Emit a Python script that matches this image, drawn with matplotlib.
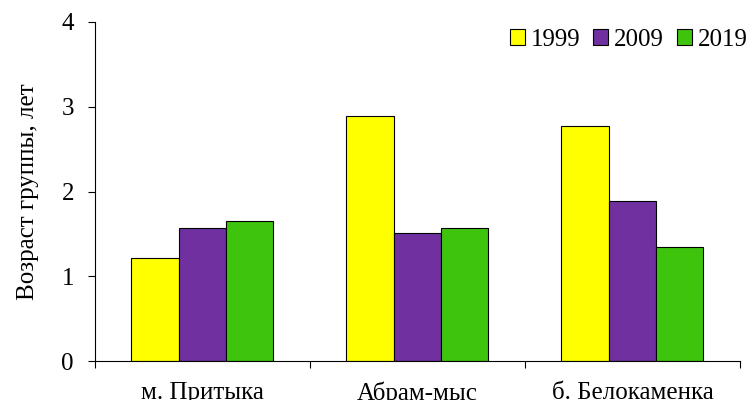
import numpy as np
import matplotlib.pyplot as plt
from matplotlib.ticker import FixedLocator

plt.rcParams['font.family'] = ['Liberation Serif', 'DejaVu Serif']

sites = ['м. Притыка', 'Абрам-мыс', 'б. Белокаменка']
years = ['1999', '2009', '2019']
age_1999 = [1.21, 2.89, 2.77]
age_2009 = [1.57, 1.51, 1.89]
age_2019 = [1.65, 1.57, 1.34]
colors = ['#FFFF00', '#7030A0', '#3FC40E']

fs = 18

fig = plt.figure(figsize=(7.52, 4.0), dpi=100)
ax = fig.add_axes([0.126, 0.0975, 0.858, 0.8475])

index = np.arange(len(sites))
bar_width = 0.22
for i, (vals, yr) in enumerate(zip([age_1999, age_2009, age_2019], years)):
    ax.bar(index + (i - 1) * bar_width, vals, bar_width, color=colors[i],
           edgecolor='black', linewidth=0.8, label=yr)

ax.set_xlim(-0.5, 2.5)
ax.set_ylim(0, 4)
ax.set_yticks([0, 1, 2, 3, 4])
ax.xaxis.set_major_locator(FixedLocator([-0.5, 0.5, 1.5, 2.5]))
ax.xaxis.set_major_formatter(plt.NullFormatter())
ax.xaxis.set_minor_locator(FixedLocator(index))
ax.set_xticklabels(sites, minor=True)
ax.tick_params(axis='x', which='minor', length=0, labelsize=fs, pad=15)
ax.tick_params(axis='x', which='major', length=5, direction='out')
ax.tick_params(axis='y', length=5, direction='out', labelsize=fs, pad=10)

ax.spines['top'].set_visible(False)
ax.spines['right'].set_visible(False)
ax.set_ylabel('Возраст группы, лет', fontsize=fs, labelpad=16)

ax.legend(loc='upper right', bbox_to_anchor=(1.047, 1.047), ncol=3, frameon=False,
          fontsize=fs, handlelength=0.6, handleheight=0.6, handletextpad=0.25,
          columnspacing=0.5)

fig.savefig('out.png', dpi=100)
